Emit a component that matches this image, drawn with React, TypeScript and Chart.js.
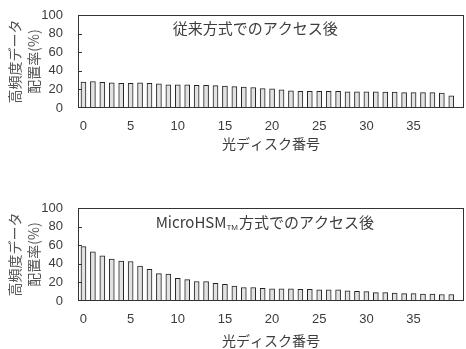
import React, { useEffect, useRef } from 'react';
import { Chart, registerables } from 'chart.js';

Chart.register(...registerables);

// ---- data ----
const diskNumbers = [
  0, 1, 2, 3, 4, 5, 6, 7, 8, 9,
  10, 11, 12, 13, 14, 15, 16, 17, 18, 19,
  20, 21, 22, 23, 24, 25, 26, 27, 28, 29,
  30, 31, 32, 33, 34, 35, 36, 37, 38, 39,
];
const conventionalRates = [
  28, 28.5, 27.5, 27, 26.5, 26.5, 27, 26.5, 26, 25,
  25, 25, 24.5, 24.5, 24, 23.5, 23, 22.5, 22, 21,
  20.5, 19.5, 18.5, 18, 18, 18, 18, 18, 17.5, 17.5,
  17.5, 17.5, 17, 17, 16.5, 16.5, 16.5, 16.5, 16, 13,
];
const microHsmRates = [
  58.5, 53, 48.5, 45, 43, 42.5, 37.5, 34, 29.5, 29,
  24.5, 23, 21, 21, 19, 18, 16, 14.5, 14.5, 13.5,
  13, 13, 13, 12.5, 12.5, 12, 12, 12, 11, 10.5,
  10, 9, 9, 8.5, 8, 8, 7.5, 7.5, 7, 7,
];
const yTickValues = [0, 20, 40, 60, 80, 100];
const xTickValues = [0, 5, 10, 15, 20, 25, 30, 35];
const yAxisTitle = ['高頻度データ', '配置率(%)'];
const xAxisTitle = '光ディスク番号';
const topPanelTitle = [{ text: '従来方式でのアクセス後', sub: false }];
const bottomPanelTitle = [
  { text: 'MicroHSM', sub: false },
  { text: 'TM', sub: true },
  { text: '方式でのアクセス後', sub: false },
];

const INK = '#333333';
const TEXT = '#3c3c3c';
const CJK = '"Noto Sans CJK JP", "Liberation Sans", sans-serif';
const LATIN = '"Liberation Sans", Arial, sans-serif';

type Part = { text: string; sub: boolean };

const framePlugin = {
  id: 'frameAndTitle',
  afterDatasetsDraw(chart: any, _args: any, opts: any) {
    const { ctx, chartArea: a, scales } = chart;
    ctx.save();
    ctx.strokeStyle = INK;
    ctx.lineWidth = 1;
    ctx.strokeRect(a.left + 0.5, a.top + 0.5, a.right - a.left - 1, a.bottom - a.top - 1);
    const ys = scales.y;
    ys.ticks.forEach((t: any) => {
      if (t.value <= 0 || t.value >= 100) return;
      const py = Math.round(ys.getPixelForValue(t.value)) + 0.5;
      ctx.beginPath();
      ctx.moveTo(a.left, py);
      ctx.lineTo(a.left + 4, py);
      ctx.stroke();
    });
    // panel title
    const parts: Part[] = opts.parts || [];
    const mainFont = '15px ' + CJK;
    const subFont = '8px ' + LATIN;
    let total = 0;
    parts.forEach((p) => {
      ctx.font = p.sub ? subFont : mainFont;
      total += ctx.measureText(p.text).width + (p.sub ? 1 : 0);
    });
    const cx = a.left + (a.right - a.left) * opts.xFrac;
    let x = cx - total / 2;
    const baseY = a.top + opts.dy;
    ctx.fillStyle = TEXT;
    ctx.textBaseline = 'alphabetic';
    ctx.textAlign = 'left';
    parts.forEach((p) => {
      ctx.font = p.sub ? subFont : mainFont;
      ctx.fillText(p.text, x, p.sub ? baseY + 2 : baseY);
      x += ctx.measureText(p.text).width + (p.sub ? 1 : 0);
    });
    ctx.restore();
  },
};

function makeConfig(values: number[], parts: Part[], cfg: { padTop: number; axisH: number; titlePadBottom: number; xFrac: number; dy: number }) {
  return {
    type: 'bar' as const,
    data: {
      datasets: [
        {
          data: diskNumbers.map((d, i) => ({ x: d, y: values[i] })),
          backgroundColor: '#e2e2e2',
          borderColor: '#222222',
          borderWidth: 1,
          barThickness: 5,
        },
      ],
    },
    options: {
      responsive: false,
      animation: false as const,
      layout: { padding: { top: cfg.padTop, left: 0, right: 2, bottom: 0 } },
      plugins: {
        legend: { display: false },
        tooltip: { enabled: false },
        title: { display: false },
        frameAndTitle: { parts, xFrac: cfg.xFrac, dy: cfg.dy },
      },
      scales: {
        x: {
          type: 'linear' as const,
          offset: false,
          min: -0.58,
          max: 40.35,
          grid: { display: false, offset: false },
          border: { display: false },
          afterBuildTicks: (s: any) => {
            s.ticks = xTickValues.map((v) => ({ value: v }));
          },
          afterFit: (s: any) => {
            s.height = cfg.axisH;
          },
          ticks: {
            padding: 3,
            color: TEXT,
            font: { family: LATIN, size: 13 },
            maxRotation: 0,
            autoSkip: false,
          },
          title: {
            display: true,
            text: xAxisTitle,
            color: TEXT,
            font: { family: CJK, size: 14, lineHeight: 1.2 },
            padding: { top: 0, bottom: cfg.titlePadBottom },
          },
        },
        y: {
          min: 0,
          max: 100,
          grid: { display: false },
          border: { display: false },
          afterBuildTicks: (s: any) => {
            s.ticks = yTickValues.map((v) => ({ value: v }));
          },
          afterFit: (s: any) => {
            s.width = 78;
          },
          ticks: {
            padding: 7,
            color: TEXT,
            font: { family: LATIN, size: 13 },
          },
          title: {
            display: true,
            text: yAxisTitle,
            color: '#555555',
            font: { family: CJK, size: 14, lineHeight: 1.35 },
            padding: { top: 5.5, bottom: 0 },
          },
        },
      },
    },
    plugins: [framePlugin],
  };
}

function Panel({ values, parts, height, cfg }: { values: number[]; parts: Part[]; height: number; cfg: any }) {
  const ref = useRef<HTMLCanvasElement | null>(null);
  useEffect(() => {
    if (!ref.current) return;
    const chart = new Chart(ref.current, makeConfig(values, parts, cfg) as any);
    return () => chart.destroy();
  }, []);
  return <canvas ref={ref} width={466} height={height} style={{ display: 'block', width: 466, height }} />;
}

export default function App() {
  useEffect(() => {
    document.body.style.margin = '0';
    document.body.style.background = '#ffffff';
  }, []);
  return (
    <div style={{ width: 466, height: 349, background: '#fff' }}>
      <Panel
        values={conventionalRates}
        parts={topPanelTitle}
        height={174}
        cfg={{ padTop: 15, axisH: 66, titlePadBottom: 22, xFrac: 0.459, dy: 19 }}
      />
      <Panel
        values={microHsmRates}
        parts={bottomPanelTitle}
        height={175}
        cfg={{ padTop: 34, axisH: 48, titlePadBottom: 0, xFrac: 0.484, dy: 20 }}
      />
    </div>
  );
}
